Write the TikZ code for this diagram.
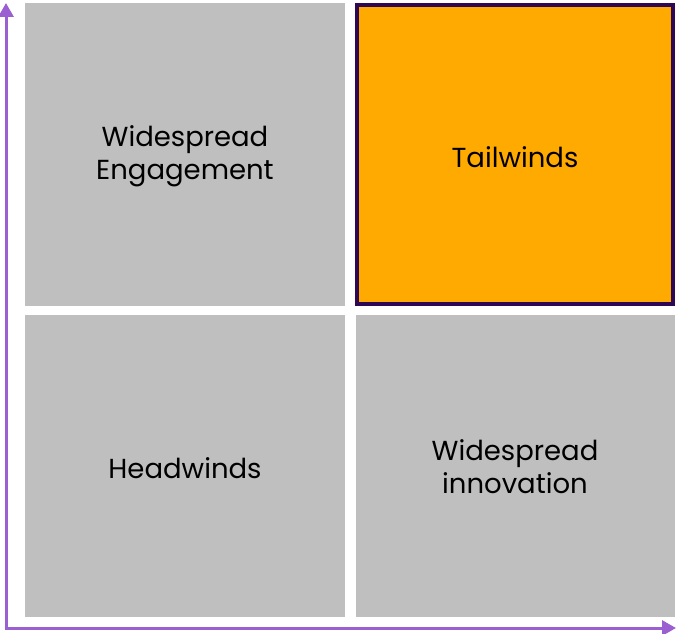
\documentclass[tikz,border=0pt]{standalone}
\usepackage{fontspec}
\setmainfont{Poppins}
\usetikzlibrary{arrows.meta}
\definecolor{boxgray}{HTML}{BFBFBF}
\definecolor{tailorange}{HTML}{FFAA00}
\definecolor{darkpurple}{HTML}{2E0854}
\definecolor{axispurple}{HTML}{9A5FD0}
\tikzset{
  quad/.style={fill=boxgray, draw=none},
  quadtext/.style={align=center, font=\fontsize{27.5}{33}\selectfont, text=black},
  axisline/.style={draw=axispurple, line width=3pt, -{Triangle[width=15pt,length=14pt]}}
}
\begin{document}
\begin{tikzpicture}[x=1pt,y=-1pt]
\useasboundingbox (0,0) rectangle (677,634);
\fill[quad] (25,3) rectangle (345,306);
\fill[tailorange] (355,3) rectangle (675,306);
\draw[darkpurple, line width=4pt] (357,5) rectangle (673,304);
\fill[quad] (25,315) rectangle (345,617);
\fill[quad] (356,315) rectangle (675,617);
\node[quadtext] (tl) at (185,156) {Widespread\\Engagement};
\node[quadtext] (tr) at (515,157) {Tailwinds};
\node[quadtext] (bl) at (185,468) {Headwinds};
\node[quadtext] (br) at (515,467) {Widespread\\innovation};
\coordinate (origin) at (6,628);
\coordinate (ytop) at (6,3);
\coordinate (xend) at (676,628);
\draw[axisline] (origin) -- (ytop);
\draw[axisline] ([xshift=-1.5pt]origin) -- (xend);
\end{tikzpicture}
\end{document}
